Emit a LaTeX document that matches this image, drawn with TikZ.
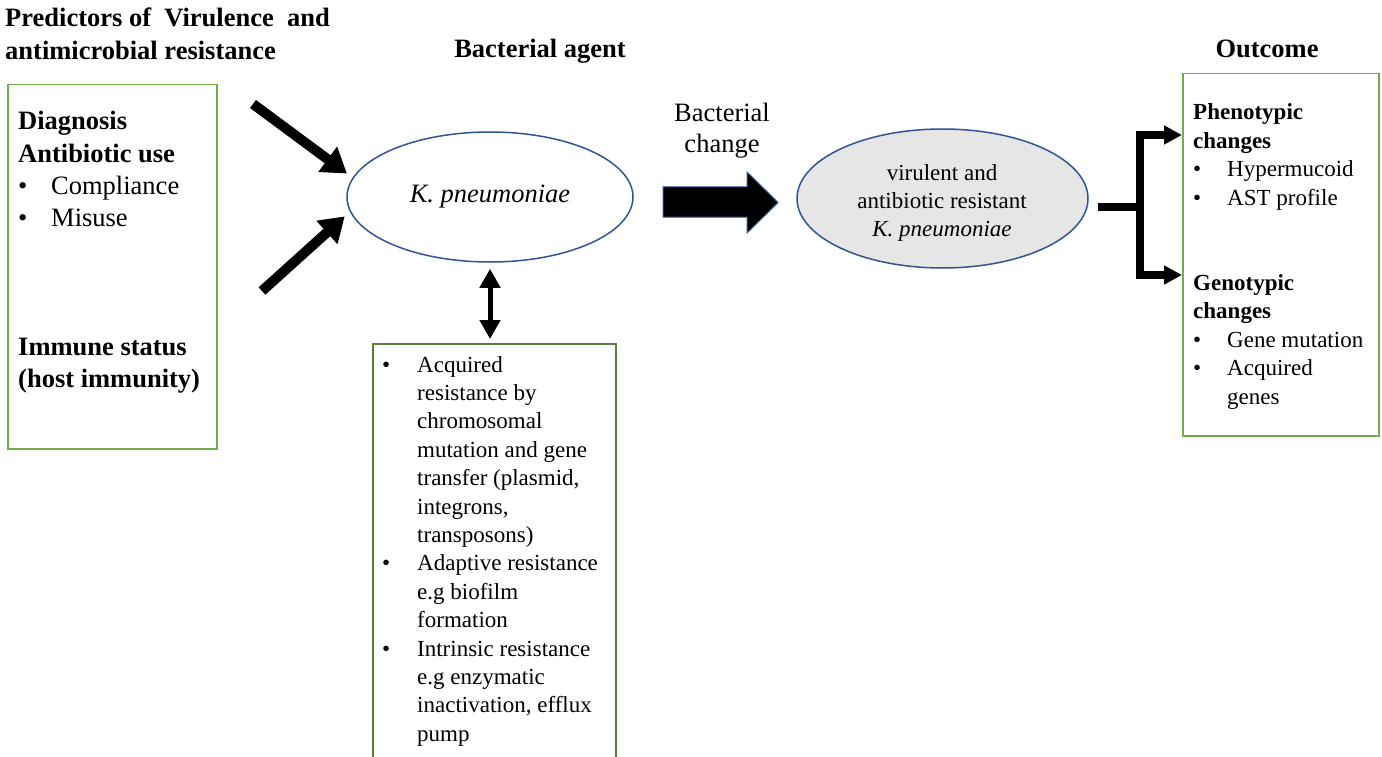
\documentclass[tikz,border=0pt]{standalone}
\usepackage{fontspec}
\setmainfont{Liberation Serif}
\usetikzlibrary{arrows.meta,shapes.geometric}
\definecolor{lgreen}{HTML}{70AD47}
\definecolor{dgreen}{HTML}{548235}
\definecolor{navy}{HTML}{2F5597}
\definecolor{lgray}{HTML}{E7E6E6}
\newcommand{\fbig}{\fontsize{26.5}{32.3}\selectfont}
\newcommand{\fbigb}{\fontsize{26.5}{31}\selectfont}
\newcommand{\fsml}{\fontsize{23}{28.5}\selectfont}
\newcommand{\fsmlb}{\fontsize{23}{28.4}\selectfont}
\begin{document}
\begin{tikzpicture}[x=1pt,y=-1pt,
  gbox/.style={draw=lgreen, line width=1.5pt, inner sep=0pt, anchor=north west},
  ell/.style={ellipse, draw=navy, line width=1.5pt, inner sep=0pt},
  txt/.style={inner sep=0pt, anchor=base west},
  ctxt/.style={inner sep=0pt, anchor=base},
  fat/.style={line width=10pt, -{Triangle[length=24pt,width=30pt]}},
  dbl/.style={line width=5pt, {Triangle[length=19pt,width=20pt]}-{Triangle[length=19pt,width=20pt]}},
  brk/.style={line width=8pt},
  brkarrow/.style={line width=8pt, -{Triangle[length=18pt,width=18pt]}}]
\clip (0,0) rectangle (1382,757);
\fill[white] (0,0) rectangle (1382,757);

% titles
\node[txt] (ttl) at (5,27) {\fbig\bfseries\begin{tabular}[t]{@{}l@{}}Predictors of\ \ Virulence\ \ and\\antimicrobial resistance\end{tabular}};
\node[ctxt] (agent) at (540,58) {\fbig\bfseries Bacterial agent};
\node[ctxt] (outc) at (1267,58) {\fbig\bfseries Outcome};

% left box
\node[gbox, minimum width=209pt, minimum height=364pt] (pbox) at (7,84) {};
\node[txt] (diag) at (18,130) {\fbig\begin{tabular}[t]{@{}p{33pt}@{}l@{}}
\multicolumn{2}{@{}l@{}}{\bfseries Diagnosis}\\
\multicolumn{2}{@{}l@{}}{\bfseries Antibiotic use}\\
\textbullet & Compliance\\
\textbullet & Misuse
\end{tabular}};
\node[txt] (imm) at (18,355) {\fbig\bfseries\begin{tabular}[t]{@{}l@{}}Immune status\\(host immunity)\end{tabular}};

% ellipses
\node[ell, minimum width=286pt, minimum height=130pt, font=\fbig\itshape] (kp) at (490,197) {K. pneumoniae};
\node[ell, fill=lgray, minimum width=291pt, minimum height=139pt] (vkp) at (942.5,198.5) {};
\node[ctxt] (vkpt) at (942,180) {\fsml\begin{tabular}[t]{@{}c@{}}virulent and\\antibiotic resistant\\\textit{K. pneumoniae}\end{tabular}};

% bacterial change
\node[ctxt] (chg) at (722,122) {\fbigb\begin{tabular}[t]{@{}c@{}}Bacterial\\change\end{tabular}};
\fill[black, draw=navy, line width=1pt] (663,187) -- (747,187) -- (747,172) -- (778,202.5) -- (747,233) -- (747,217) -- (663,217) -- cycle;

% mechanism box
\node[draw=dgreen, line width=2pt, anchor=north west, minimum width=243pt, minimum height=440pt, inner sep=0pt] (mech) at (372,343) {};
\node[txt] (mecht) at (382,372) {\fsmlb\begin{tabular}[t]{@{}p{35pt}@{}l@{}}
\textbullet & Acquired\\
 & resistance by\\
 & chromosomal\\
 & mutation and gene\\
 & transfer (plasmid,\\
 & integrons,\\
 & transposons)\\
\textbullet & Adaptive resistance\\
 & e.g biofilm\\
 & formation\\
\textbullet & Intrinsic resistance\\
 & e.g enzymatic\\
 & inactivation, efflux\\
 & pump
\end{tabular}};

% outcome box
\node[gbox, minimum width=196pt, minimum height=362pt] (outbox) at (1182,73) {};
\node[txt] (pheno) at (1193,120) {\fsml\begin{tabular}[t]{@{}p{34pt}@{}l@{}}
\multicolumn{2}{@{}l@{}}{\bfseries Phenotypic}\\
\multicolumn{2}{@{}l@{}}{\bfseries changes}\\
\textbullet & Hypermucoid\\
\textbullet & AST profile
\end{tabular}};
\node[txt] (geno) at (1193,290) {\fsml\begin{tabular}[t]{@{}p{34pt}@{}l@{}}
\multicolumn{2}{@{}l@{}}{\bfseries Genotypic}\\
\multicolumn{2}{@{}l@{}}{\bfseries changes}\\
\textbullet & Gene mutation\\
\textbullet & Acquired\\
 & genes
\end{tabular}};

% arrows into K. pneumoniae
\coordinate (a1) at (253,104);
\coordinate (a2) at (262,291);
\draw[fat, shorten >=7pt] (a1) -- (kp.172);
\draw[fat, shorten >=7pt] (a2) -- (kp.186);

% double arrow
\draw[dbl, shorten <=6pt, shorten >=4pt] (kp.south) -- (kp.south |- mech.north);

% bracket
\coordinate (bs) at (1098,207);
\coordinate (bj) at (1140,207);
\coordinate (pt) at (1182,135);
\coordinate (gt) at (1182,275);
\draw[brk] (bs) -- (bj);
\draw[brkarrow] (bj) |- (pt);
\draw[brkarrow] (bj) |- (gt);
\end{tikzpicture}
\end{document}
